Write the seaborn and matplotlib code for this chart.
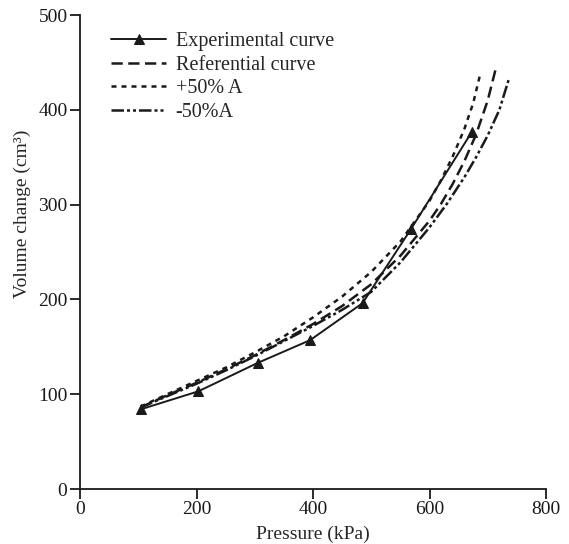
import numpy as np
import pandas as pd
import matplotlib
matplotlib.use('Agg')
import matplotlib.pyplot as plt
import seaborn as sns

# experimental points
exp_p = [104, 203, 305, 395, 485, 568, 673]
exp_v = [84, 103, 133, 157, 196, 274, 377]

# referential curve
ref_p = [104, 150, 200, 250, 300, 350, 400, 450, 500, 550, 600, 620, 640, 660, 680, 700, 714]
ref_v = [86, 99, 112, 126, 141, 157, 174, 193, 216, 246, 283, 301, 322, 346, 374, 410, 444]

# +50% A
plus_p = [104, 150, 200, 250, 300, 350, 400, 450, 500, 550, 600, 620, 640, 660, 675, 688]
plus_v = [87, 100, 114, 128, 144, 161, 181, 203, 229, 261, 304, 326, 351, 380, 407, 440]

# -50% A
minus_p = [104, 150, 200, 250, 300, 350, 400, 450, 500, 550, 600, 630, 660, 680, 700, 720, 736]
minus_v = [86, 98, 111, 125, 140, 156, 172, 189, 208, 239, 276, 301, 329, 350, 373, 400, 432]

labels = ['Experimental curve', 'Referential curve', '+50% A', '-50%A']

sns.set_style('ticks')
plt.rcParams['font.family'] = ['Liberation Serif', 'DejaVu Serif']

fig = plt.figure(figsize=(5.69, 5.44), dpi=100)
ax = fig.add_axes([80/569, 1-489/544, 466/569, 474/544])

ink = '#1a1a1a'
sns.lineplot(x=exp_p, y=exp_v, ax=ax, color=ink, lw=1.4, marker='^',
             markersize=7, markeredgecolor=ink, sort=False, label=labels[0])
sns.lineplot(x=ref_p, y=ref_v, ax=ax, color=ink, lw=1.8, sort=False,
             label=labels[1]).lines[-1].set_dashes([4.5, 2.2])
sns.lineplot(x=plus_p, y=plus_v, ax=ax, color=ink, lw=1.8, sort=False,
             label=labels[2]).lines[-1].set_dashes([2, 2])
sns.lineplot(x=minus_p, y=minus_v, ax=ax, color=ink, lw=1.8, sort=False,
             label=labels[3]).lines[-1].set_dashes([5, 1.2, 1.2, 1.2, 1.2, 1.2])

ax.set_xlim(0, 800)
ax.set_ylim(0, 500)
ax.set_xticks([0, 200, 400, 600, 800])
ax.set_yticks([0, 100, 200, 300, 400, 500])
ax.set_xlabel('Pressure (kPa)', fontsize=14, labelpad=5)
ax.set_ylabel('Volume change (cm³)', fontsize=14)
ax.yaxis.set_label_coords(-0.105, 0.58)
ax.tick_params(labelsize=14, length=7, width=1.3, color=ink, labelcolor=ink, pad=2)
for s in ['left', 'bottom']:
    ax.spines[s].set_linewidth(1.3)
    ax.spines[s].set_color(ink)
sns.despine(ax=ax)

leg = ax.legend(loc='upper left', bbox_to_anchor=(0.03, 1.0), frameon=False,
                fontsize=14.5, handlelength=2.75, handletextpad=0.45,
                labelspacing=0.22, borderaxespad=0.45)

fig.savefig('out.png', dpi=100)
